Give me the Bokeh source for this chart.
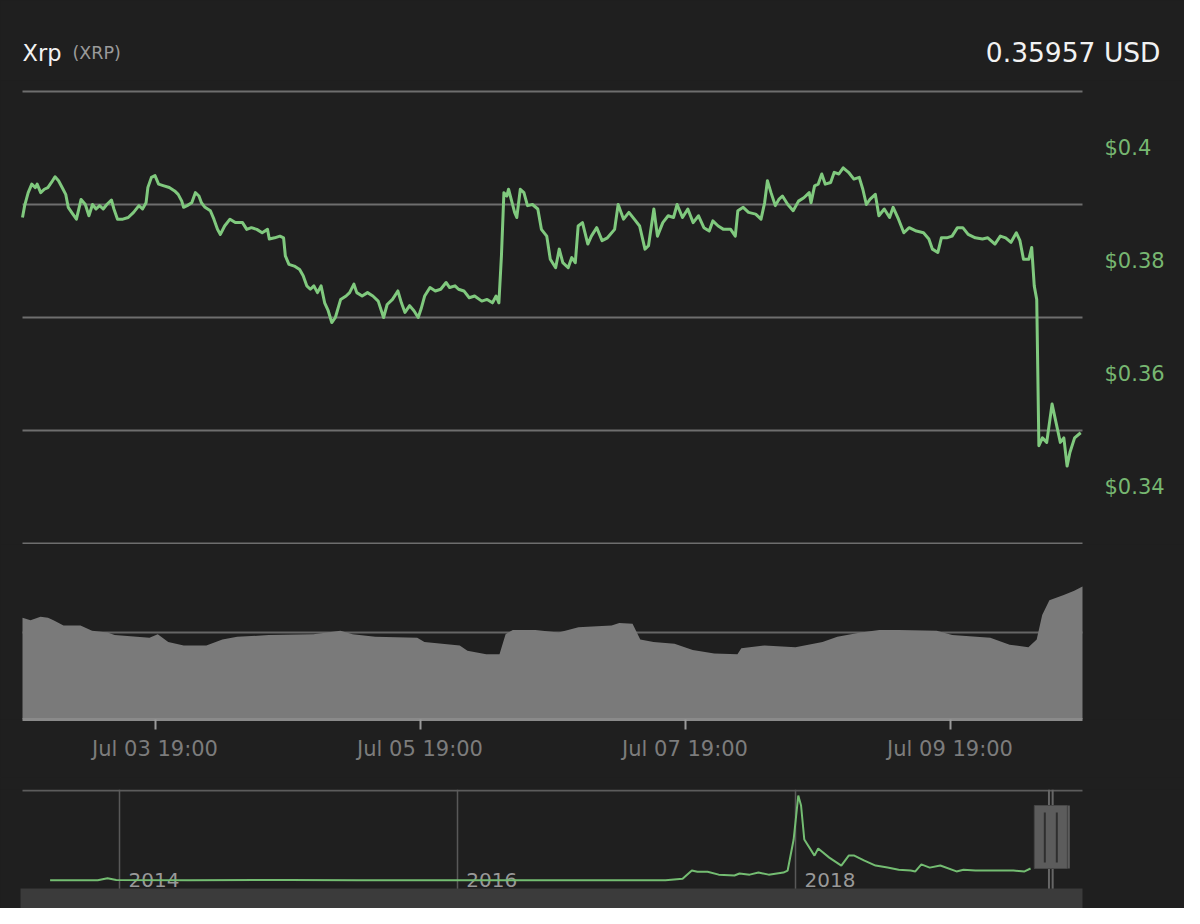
import pandas as pd
from bokeh.plotting import figure
from bokeh.layouts import column
from bokeh.models import (Range1d, FixedTicker, DatetimeAxis, DatetimeTickFormatter, Label,
                          BoxAnnotation)
from bokeh.core.properties import value
from bokeh.embed import file_html
from bokeh.resources import INLINE

# ---------------- data ----------------
COIN_NAME = "Xrp"
COIN_SYMBOL = "(XRP)"
LAST_PRICE = "0.35957 USD"

START = "2019-07-02 19:00"
END = "2019-07-10 19:00"

# hours after START, price in USD
PRICE_HOURS = [
    0.0, 0.39, 1.03, 1.68, 2.33, 2.65, 3.30, 3.95, 4.59, 5.24,
    5.89, 6.53, 7.18, 7.83, 8.28, 9.12, 9.77, 10.61, 11.38, 12.03,
    12.68, 13.32, 13.97, 14.62, 15.27, 16.11, 16.56, 17.21, 18.18, 19.15,
    20.12, 21.09, 21.74, 22.38, 22.71, 23.35, 24.00, 24.65, 25.62, 26.59,
    27.56, 28.20, 28.85, 29.17, 29.82, 30.66, 31.31, 31.96, 32.41, 33.06,
    34.03, 34.67, 35.32, 35.84, 36.61, 37.58, 38.55, 39.85, 40.62, 41.46,
    42.44, 43.41, 44.38, 44.70, 45.67, 46.64, 47.29, 47.61, 48.26, 49.23,
    50.20, 50.84, 51.49, 52.14, 52.78, 53.43, 54.08, 54.73, 55.37, 56.02,
    56.67, 57.63, 58.61, 59.25, 60.03, 60.55, 61.52, 62.49, 63.46, 64.43,
    65.40, 66.05, 67.02, 67.99, 68.63, 69.28, 70.12, 70.90, 71.67, 72.19,
    72.84, 73.81, 74.78, 75.75, 76.72, 77.37, 78.34, 78.98, 79.95, 80.92,
    81.89, 83.19, 84.16, 85.13, 85.78, 86.29, 86.75, 87.20, 87.72, 88.04,
    88.69, 89.14, 89.53, 90.17, 90.82, 91.47,
    92.37, 93.34, 93.99, 94.96, 95.60, 96.57, 97.22, 97.87, 98.84, 99.49,
    100.13, 100.65, 101.43, 102.40, 103.04, 104.01, 104.98, 105.95, 107.25, 107.89,
    108.87, 109.84, 110.81, 111.78, 112.75, 113.39, 114.36, 115.01, 115.98, 116.95,
    117.92, 118.57, 119.54, 120.51, 121.48, 122.45, 123.42, 124.39, 125.04, 126.01,
    126.98, 128.27, 129.11, 129.57, 130.54, 131.51, 132.80, 133.77, 134.42, 134.93,
    135.58, 136.36, 137.00, 137.65, 138.62, 139.59, 140.56, 141.53, 142.50, 142.83,
    143.47, 144.12, 144.77, 145.41, 146.38, 147.03, 147.87, 148.65, 149.62, 150.59,
    151.56, 152.21, 152.85, 153.50, 154.47, 155.12, 156.09, 157.06, 157.70, 158.67,
    159.64, 160.61, 161.91, 163.20, 164.17, 164.82, 165.79, 166.44, 167.41, 168.38,
    169.35, 170.32, 171.29, 172.58, 173.88, 174.85, 176.14, 177.11, 178.08, 179.05,
    180.02, 180.67, 181.31, 182.28, 182.80, 183.26, 183.71, 184.10, 184.74, 185.52,
    186.49, 187.14, 187.98, 188.62, 189.21, 189.72, 190.57, 191.67,
]
PRICE_USD = [
    0.3977, 0.3998, 0.4021, 0.4036, 0.4030, 0.4036, 0.4021, 0.4027, 0.4030, 0.4039,
    0.4049, 0.4042, 0.4030, 0.4018, 0.3995, 0.3983, 0.3974, 0.4009, 0.4000, 0.3980,
    0.4000, 0.3992, 0.3998, 0.3992, 0.4000, 0.4008, 0.3992, 0.3974, 0.3974, 0.3977,
    0.3986, 0.3998, 0.3992, 0.4003, 0.4030, 0.4048, 0.4051, 0.4036, 0.4033, 0.4030,
    0.4024, 0.4018, 0.4006, 0.3995, 0.3998, 0.4003, 0.4021, 0.4015, 0.4003, 0.3995,
    0.3989, 0.3974, 0.3956, 0.3947, 0.3962, 0.3974, 0.3968, 0.3968, 0.3956, 0.3959,
    0.3956, 0.3950, 0.3956, 0.3939, 0.3941, 0.3944, 0.3941, 0.3909, 0.3894, 0.3891,
    0.3885, 0.3874, 0.3856, 0.3850, 0.3856, 0.3844, 0.3856, 0.3826, 0.3812, 0.3791,
    0.3800, 0.3832, 0.3838, 0.3844, 0.3859, 0.3844, 0.3838, 0.3844, 0.3838, 0.3829,
    0.3800, 0.3823, 0.3832, 0.3847, 0.3826, 0.3809, 0.3821, 0.3812, 0.3800, 0.3815,
    0.3838, 0.3853, 0.3847, 0.3850, 0.3862, 0.3853, 0.3856, 0.3850, 0.3847, 0.3835,
    0.3838, 0.3829, 0.3832, 0.3826, 0.3838, 0.3826, 0.3909, 0.4021, 0.4015, 0.4027,
    0.4003, 0.3986, 0.3977, 0.4027, 0.4021, 0.3998,
    0.4000, 0.3992, 0.3956, 0.3944, 0.3903, 0.3888, 0.3921, 0.3897, 0.3888, 0.3906,
    0.3897, 0.3962, 0.3968, 0.3930, 0.3944, 0.3959, 0.3936, 0.3941, 0.3956, 0.4000,
    0.3974, 0.3986, 0.3974, 0.3962, 0.3921, 0.3927, 0.3992, 0.3944, 0.3968, 0.3980,
    0.3977, 0.4000, 0.3977, 0.3992, 0.3968, 0.3980, 0.3959, 0.3953, 0.3971, 0.3962,
    0.3956, 0.3956, 0.3944, 0.3989, 0.3995, 0.3986, 0.3983, 0.3974, 0.4003, 0.4042,
    0.4021, 0.3998, 0.4009, 0.4015, 0.4000, 0.3989, 0.4006, 0.4012, 0.4021, 0.4003,
    0.4033, 0.4036, 0.4054, 0.4036, 0.4039, 0.4057, 0.4054, 0.4065, 0.4057, 0.4045,
    0.4048, 0.4027, 0.4000, 0.4009, 0.4018, 0.3980, 0.3992, 0.3977, 0.3995, 0.3974,
    0.3950, 0.3959, 0.3953, 0.3950, 0.3939, 0.3921, 0.3915, 0.3941, 0.3941, 0.3944,
    0.3959, 0.3959, 0.3947, 0.3941, 0.3939, 0.3941, 0.3930, 0.3944, 0.3941, 0.3933,
    0.3950, 0.3936, 0.3903, 0.3903, 0.3924, 0.3856, 0.3832, 0.3573, 0.3587, 0.3579,
    0.3647, 0.3617, 0.3579, 0.3587, 0.3537, 0.3561, 0.3587, 0.3596,
]

# hours after START, 24h volume (billions USD)
VOLUME_HOURS = [
    0.0, 1.45, 3.26, 4.62, 5.61, 7.43, 10.5, 12.6, 15.4, 16.7,
    23.0, 24.5, 26.4, 29.2, 33.3, 36.2, 38.9, 44.6, 52.7, 57.6,
    59.8, 63.9, 71.5, 72.8, 79.2, 80.6, 84.0, 86.4, 87.5, 88.8,
    92.9, 97.1, 100.7, 103.2, 106.7, 108.1, 110.5, 111.9, 114.3, 118.1,
    121.4, 125.3, 129.5, 130.2, 134.4, 140.0, 144.9, 147.6, 151.8, 155.2,
    158.7, 165.6, 168.4, 175.3, 178.8, 182.2, 183.7, 184.7, 186.0, 188.6,
    190.5, 192.0,
]
VOLUME_BN = [
    1.17, 1.14, 1.18, 1.17, 1.14, 1.08, 1.08, 1.02, 1.00, 0.97,
    0.94, 0.98, 0.89, 0.85, 0.85, 0.92, 0.95, 0.97, 0.98, 1.02,
    0.98, 0.95, 0.94, 0.89, 0.85, 0.79, 0.75, 0.75, 0.98, 1.03,
    1.03, 1.00, 1.06, 1.07, 1.08, 1.11, 1.10, 0.92, 0.89, 0.87,
    0.80, 0.76, 0.75, 0.82, 0.85, 0.83, 0.89, 0.95, 1.00, 1.03,
    1.03, 1.02, 0.97, 0.94, 0.86, 0.83, 0.92, 1.20, 1.37, 1.43,
    1.48, 1.53,
]

X_TICKS = ["2019-07-03 19:00", "2019-07-05 19:00", "2019-07-07 19:00", "2019-07-09 19:00"]
PRICE_GRID = [0.34, 0.36, 0.38, 0.40, 0.42]
PRICE_LABEL_TICKS = [0.34, 0.36, 0.38, 0.40]
VOLUME_GRID = [1.0]

# navigator: full history
NAV_DATES = [
    "2013-08-04", "2013-11-15", "2013-12-06", "2013-12-25", "2014-06-01",
    "2015-01-01", "2015-06-01", "2016-01-01", "2016-10-19", "2017-03-26",
    "2017-05-02", "2017-05-22", "2017-06-03", "2017-06-25", "2017-07-19",
    "2017-08-22", "2017-09-02", "2017-09-24", "2017-10-13", "2017-11-04",
    "2017-12-06", "2017-12-15", "2017-12-28", "2018-01-07", "2018-01-13",
    "2018-01-20", "2018-02-11", "2018-02-19", "2018-03-15", "2018-04-10",
    "2018-04-26", "2018-05-08", "2018-05-30", "2018-06-23", "2018-07-19",
    "2018-08-12", "2018-09-07", "2018-09-17", "2018-09-30", "2018-10-18",
    "2018-11-10", "2018-12-15", "2018-12-30", "2019-01-25", "2019-03-07",
    "2019-04-17", "2019-05-11", "2019-05-24",
]
NAV_PRICE = [
    0.005, 0.01, 0.08, 0.02, 0.01,
    0.02, 0.01, 0.006, 0.007, 0.01,
    0.06, 0.34, 0.30, 0.30, 0.20,
    0.17, 0.24, 0.20, 0.27, 0.20,
    0.27, 0.34, 1.40, 2.90, 2.56,
    1.40, 0.85, 1.09, 0.78, 0.51,
    0.85, 0.85, 0.68, 0.51, 0.44,
    0.37, 0.34, 0.31, 0.55, 0.44,
    0.51, 0.31, 0.37, 0.34, 0.34,
    0.34, 0.31, 0.41,
]
NAV_YEAR_TICKS = ["2014-01-01", "2016-01-01", "2018-01-01"]
NAV_YEARS = ["2014", "2016", "2018"]

# ---------------- styles / layout ----------------
BG = "#1f1f1f"
FONT = "DejaVu Sans"
GRID = "#6e6e6e"
LINE_GREEN = "#80c97e"
LABEL_GREEN = "#77b771"
W = 1184
PAD_L, PLOT_W = 22, 1060          # plotting area inside each full-width frame
PAD_R = W - PAD_L - PLOT_W


def ms(t):
    return pd.Timestamp(t).value / 1e6


start = pd.Timestamp(START)
end = pd.Timestamp(END)
price_t = start + pd.to_timedelta(PRICE_HOURS, unit="h")
vol_t = start + pd.to_timedelta(VOLUME_HOURS, unit="h")
px_per_ms = PLOT_W / (ms(end) - ms(start))
x_range = Range1d(ms(start) - PAD_L / px_per_ms, ms(end) + PAD_R / px_per_ms)


def base(height, x_range, y_range, top=0, bottom=0, x_type="datetime"):
    p = figure(width=W, height=height, x_range=x_range, y_range=y_range,
               x_axis_type=x_type, x_axis_location=None, y_axis_location=None,
               output_backend="svg", toolbar_location=None,
               background_fill_color=BG, border_fill_color=BG,
               outline_line_color=None,
               min_border_left=0, min_border_right=0,
               min_border_top=top, min_border_bottom=bottom)
    p.xgrid.visible = False
    p.ygrid.visible = False
    return p


def hgrid(p, levels, color, width=2):
    n = len(levels)
    p.segment(x0=[ms(start)] * n, x1=[ms(end)] * n, y0=levels, y1=levels,
              line_color=color, line_width=width, level="underlay")


# ---- header ----
HEAD_H = 80
ph = base(HEAD_H, Range1d(0, W), Range1d(0, HEAD_H), x_type="linear")
hb = 28
ph.add_layout(Label(x=PAD_L, y=hb, x_units="screen", y_units="screen", text=COIN_NAME,
                    text_font=FONT, text_font_size="22.5px", text_color="#f2f2f2",
                    text_baseline="alphabetic"))
ph.add_layout(Label(x=PAD_L + 50, y=hb, x_units="screen", y_units="screen", text=COIN_SYMBOL,
                    text_font=FONT, text_font_size="17.5px", text_color="#9a9a9a",
                    text_baseline="alphabetic"))
ph.add_layout(Label(x=W - 24, y=hb, x_units="screen", y_units="screen", text=LAST_PRICE,
                    text_font=FONT, text_font_size="26.5px", text_color="#f2f2f2",
                    text_align="right", text_baseline="alphabetic"))

# ---- price pane ----
px_per_usd = 452 / 0.08
y0 = 0.34 - 1 / px_per_usd
y1 = 0.42 + 11 / px_per_usd
pa = base(464, x_range, Range1d(y0, y1))
hgrid(pa, PRICE_GRID, GRID)
half_step = (PRICE_LABEL_TICKS[1] - PRICE_LABEL_TICKS[0]) / 2
pa.text(x=[ms(end)] * len(PRICE_LABEL_TICKS),
        y=[v + half_step for v in PRICE_LABEL_TICKS],
        text=["$%g" % v for v in PRICE_LABEL_TICKS],
        x_offset=22, text_align="left", text_baseline="middle",
        text_font=value(FONT), text_font_size="21px", text_color=LABEL_GREEN)
pa.line(price_t, PRICE_USD, line_color=LINE_GREEN, line_width=3, line_join="round")

# ---- volume pane ----
pb = base(233, x_range, Range1d(0, 175 / 87), bottom=58)
hgrid(pb, VOLUME_GRID, "#666666")
pb.varea(x=vol_t, y1=0, y2=VOLUME_BN, fill_color="#7a7a7a")
xa = DatetimeAxis()
xa.ticker = FixedTicker(ticks=[ms(t) for t in X_TICKS])
fmt = "%b %d %H:%M"
xa.formatter = DatetimeTickFormatter(days=fmt, hours=fmt, hourmin=fmt, months=fmt,
                                     years=fmt, minutes=fmt, minsec=fmt)
xa.bounds = (ms(start), ms(end))
xa.axis_line_color = "#8a8a8a"
xa.axis_line_width = 3
xa.major_tick_line_color = "#9a9a9a"
xa.major_tick_line_width = 2
xa.major_tick_in = 0
xa.major_tick_out = 10
xa.minor_tick_line_color = None
xa.major_label_standoff = 7
xa.major_label_text_color = "#7c7c7c"
xa.major_label_text_font = FONT
xa.major_label_text_font_size = "21px"
pb.add_layout(xa, "below")

# ---- navigator ----
nav_px = 29.3                 # px per USD in navigator
nav_zero = 888 - 797          # px from frame top down to zero
nav_y1 = nav_zero / nav_px
nav_y0 = -(119 - nav_zero) / nav_px
px_per_day = 676 / 1461.0
ms_day = 86400000.0
nav_a = ms("2014-01-01") - 97 / px_per_day * ms_day      # left edge of navigator area
nav_b = nav_a + PLOT_W / px_per_day * ms_day             # right edge
nav_range = Range1d(nav_a - PAD_L / px_per_day * ms_day, nav_b + PAD_R / px_per_day * ms_day)
pc = base(131, nav_range, Range1d(nav_y0, nav_y1), top=12)
pc.xgrid.visible = True
pc.xgrid.ticker = FixedTicker(ticks=[ms(t) for t in NAV_YEAR_TICKS])
pc.xgrid.grid_line_color = "#585858"
pc.xgrid.grid_line_width = 1.5
top_line = nav_y1 - 1 / nav_px
pc.segment(x0=[nav_a], y0=[top_line], x1=[nav_b], y1=[top_line],
           line_color="#5c5c5c", line_width=2)
pc.text(x=[ms(t) for t in NAV_YEAR_TICKS], y=[1 / nav_px] * len(NAV_YEARS),
        text=NAV_YEARS, x_offset=9, text_baseline="alphabetic",
        text_font=value(FONT), text_font_size="20px", text_color="#999999")
pc.line([pd.Timestamp(d) for d in NAV_DATES], NAV_PRICE, line_color="#74bd72", line_width=2)
pc.add_layout(BoxAnnotation(left=nav_a - 2 / px_per_day * ms_day, right=nav_b,
                            top=-8 / nav_px, fill_color="#3b3b3b", fill_alpha=1,
                            line_color=None))
pc.segment(x0=[ms(start), ms(end)], y0=[nav_y1] * 2, x1=[ms(start), ms(end)], y1=[nav_y0] * 2,
           line_color="#666666", line_width=2)
mid = (ms(start) + ms(end)) / 2
hc_y = (888 - 844.5) / nav_px
pc.rect(x=[mid], y=[hc_y], width=33, height=63, width_units="screen",
        height_units="screen", fill_color="#5c5c5c", line_color="#474747", line_width=1)
dd = 6 / px_per_day * ms_day
pc.segment(x0=[mid - dd, mid + dd], y0=[(888 - 820) / nav_px] * 2,
           x1=[mid - dd, mid + dd], y1=[(888 - 870) / nav_px] * 2,
           line_color="#2f2f2f", line_width=2)
de = 18 / px_per_day * ms_day
pc.segment(x0=[mid + de], y0=[(888 - 813) / nav_px], x1=[mid + de], y1=[(888 - 876) / nav_px],
           line_color="#5c5c5c", line_width=2)

layout = column(ph, pa, pb, pc, spacing=0, background=BG)
html = file_html(layout, INLINE)
html = html.replace("<body>", '<body style="background-color:%s;">' % BG, 1)
open("out.html", "w").write(html)
